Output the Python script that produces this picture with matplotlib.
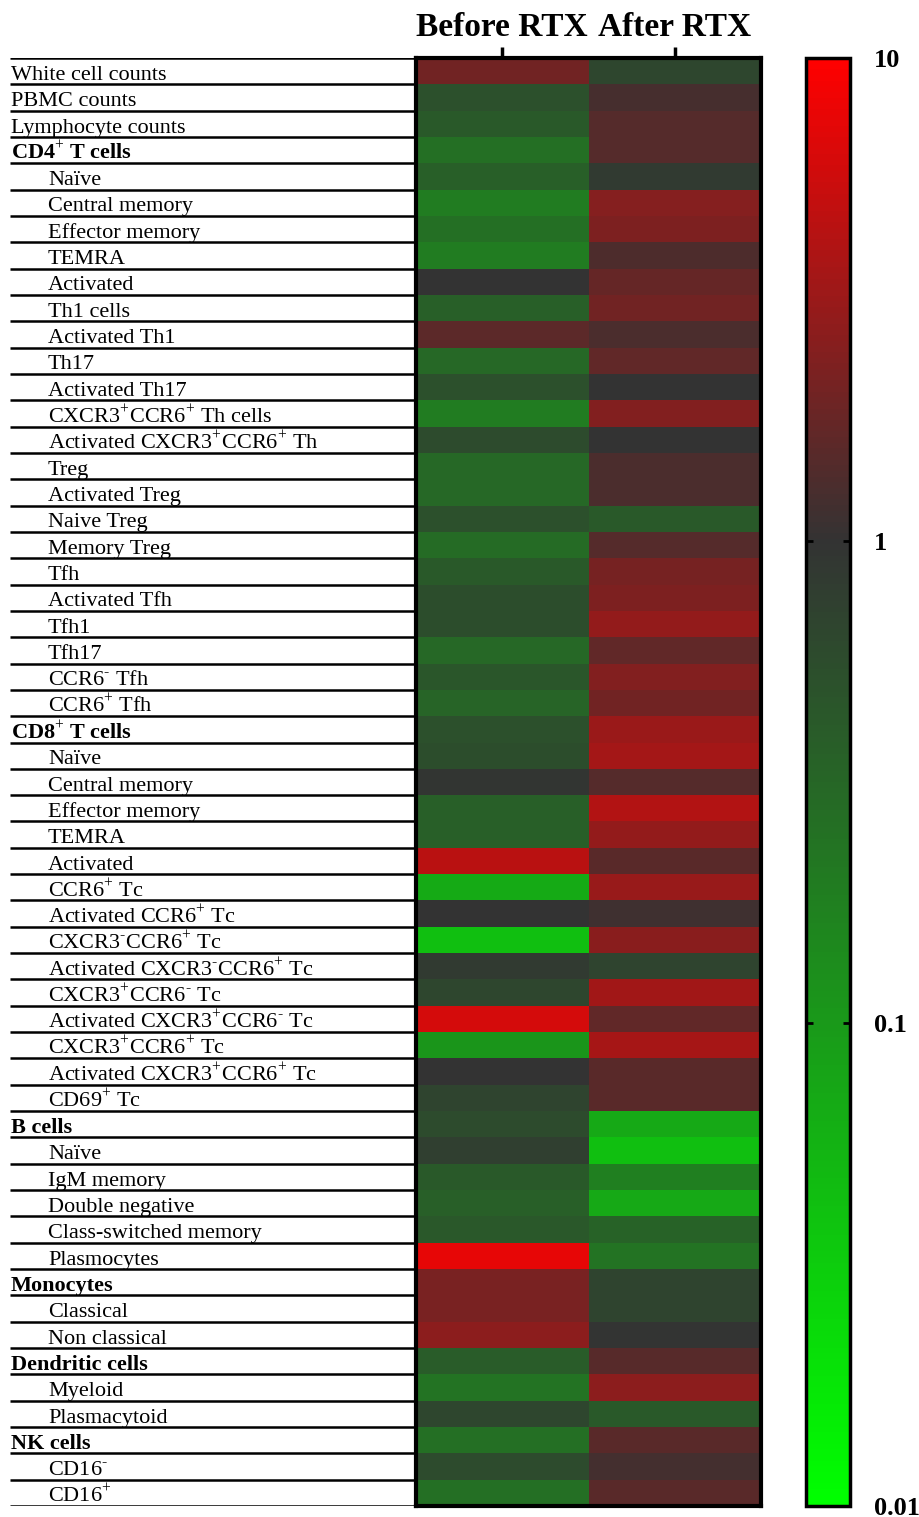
import numpy as np
import matplotlib
matplotlib.use("Agg")
import matplotlib.pyplot as plt
from matplotlib.colors import LinearSegmentedColormap, LogNorm

plt.rcParams['font.family'] = ['Liberation Serif', 'DejaVu Serif']
plt.rcParams['mathtext.fontset'] = 'custom'
plt.rcParams['mathtext.rm'] = 'Liberation Serif'
plt.rcParams['mathtext.bf'] = 'Liberation Serif:bold'

P = r"$^{+}$"
M = r"$^{\text{-}}$"

# --- data (fold change) ---
populations = [
    "White cell counts", "PBMC counts", "Lymphocyte counts",
    f"CD4{P} T cells", "Naïve", "Central memory", "Effector memory", "TEMRA",
    "Activated", "Th1 cells", "Activated Th1", "Th17", "Activated Th17",
    f"CXCR3{P}CCR6{P} Th cells", f"Activated CXCR3{P}CCR6{P} Th",
    "Treg", "Activated Treg", "Naive Treg", "Memory Treg", "Tfh", "Activated Tfh",
    "Tfh1", "Tfh17", f"CCR6{M} Tfh", f"CCR6{P} Tfh",
    f"CD8{P} T cells", "Naïve", "Central memory", "Effector memory", "TEMRA",
    "Activated", f"CCR6{P} Tc", f"Activated CCR6{P} Tc",
    f"CXCR3{M}CCR6{P} Tc", f"Activated CXCR3{M}CCR6{P} Tc",
    f"CXCR3{P}CCR6{M} Tc", f"Activated CXCR3{P}CCR6{M} Tc",
    f"CXCR3{P}CCR6{P} Tc", f"Activated CXCR3{P}CCR6{P} Tc", f"CD69{P} Tc",
    "B cells", "Naïve", "IgM memory", "Double negative", "Class-switched memory",
    "Plasmocytes",
    "Monocytes", "Classical", "Non classical",
    "Dendritic cells", "Myeloid", "Plasmacytoid",
    "NK cells", f"CD16{M}", f"CD16{P}",
]
# 0 = plain top level, 1 = bold group header, 2 = indented subset
level = [0, 0, 0,
         1, 2, 2, 2, 2, 2, 2, 2, 2, 2, 2, 2, 2, 2, 2, 2, 2, 2, 2, 2, 2, 2,
         1, 2, 2, 2, 2, 2, 2, 2, 2, 2, 2, 2, 2, 2, 2,
         1, 2, 2, 2, 2, 2,
         1, 2, 2,
         1, 2, 2,
         1, 2, 2]

before_rtx = [2.0, 0.52, 0.42,
              0.26, 0.37, 0.19, 0.26, 0.19, 1.0, 0.37, 1.59, 0.30, 0.52, 0.19, 0.58,
              0.30, 0.30, 0.52, 0.28, 0.42, 0.55, 0.55, 0.30, 0.46, 0.33,
              0.52, 0.55, 0.95, 0.37, 0.37, 4.5, 0.068, 1.0, 0.042, 0.85,
              0.65, 6.0, 0.11, 1.0, 0.68,
              0.58, 0.75, 0.42, 0.37, 0.43, 7.6,
              2.2, 2.2, 2.7,
              0.40, 0.24, 0.65,
              0.26, 0.58, 0.26]
after_rtx = [0.65, 1.24, 1.47,
             1.47, 0.85, 2.5, 2.3, 1.35, 1.74, 2.0, 1.3, 1.64, 1.0, 2.4, 1.0,
             1.3, 1.3, 0.42, 1.47, 2.1, 2.3, 2.9, 1.68, 2.4, 2.0,
             3.2, 3.5, 1.47, 4.2, 2.9, 1.55, 3.1, 1.13, 2.6, 0.68,
             3.4, 1.68, 3.6, 1.55, 1.55,
             0.071, 0.042, 0.18, 0.07, 0.35, 0.24,
             0.68, 0.68, 0.97,
             1.5, 2.7, 0.42,
             1.55, 1.2, 1.55]
conditions = ["Before RTX", "After RTX"]
cbar_ticks = [10, 1, 0.1, 0.01]
cbar_ticklabels = ["10", "1", "0.1", "0.01"]

n = len(populations)
values = np.column_stack([before_rtx, after_rtx])

cmap = LinearSegmentedColormap.from_list(
    "gbr", [(0.0, (0.0, 1.0, 0.0)), (2 / 3, (0.2, 0.2, 0.2)), (1.0, (1.0, 0.0, 0.0))])
norm = LogNorm(vmin=0.01, vmax=10)

W, H = 919, 1517
fig = plt.figure(figsize=(W / 100, H / 100), dpi=100)

top_px, bot_px = 58, 1506
ax = fig.add_axes([416 / W, 1 - bot_px / H, 345 / W, (bot_px - top_px) / H])
lax = fig.add_axes([10 / W, 1 - bot_px / H, 406 / W, (bot_px - top_px) / H])
cax = fig.add_axes([806 / W, 1 - bot_px / H, 44 / W, (bot_px - top_px) / H])

# heatmap
mesh = ax.pcolormesh(np.arange(3), np.arange(n + 1), values, cmap=cmap, norm=norm)
ax.set_xlim(0, 2)
ax.set_ylim(n, 0)
ax.xaxis.tick_top()
ax.set_xticks([0.5, 1.5])
ax.set_xticklabels(conditions, fontsize=24, fontweight='bold')
ax.tick_params(axis='x', length=8, width=2.5, pad=3)
ax.set_yticks([])
for s in ax.spines.values():
    s.set_linewidth(3)

# label table
lax.set_xlim(0, 406)
lax.set_ylim(n, 0)
lax.axis('off')
lax.hlines(np.arange(n + 1), 0, 406, color='black', linewidth=1.8)
for i, (name, lv) in enumerate(zip(populations, level)):
    x = 38 if lv == 2 else 1
    lax.text(x, i + 0.83, name, fontsize=16, va='baseline', ha='left',
             fontweight='bold' if lv == 1 else 'normal')

# colour bar
cb = fig.colorbar(mesh, cax=cax)
cb.set_ticks(cbar_ticks)
cb.set_ticklabels(cbar_ticklabels)
cb.minorticks_off()
cb.outline.set_linewidth(2.5)
cax.tick_params(direction='in', left=True, right=True, length=5, width=2,
                labelsize=19, pad=17)
for t in cax.get_yticklabels():
    t.set_fontweight('bold')

fig.savefig("out.png", dpi=100)
